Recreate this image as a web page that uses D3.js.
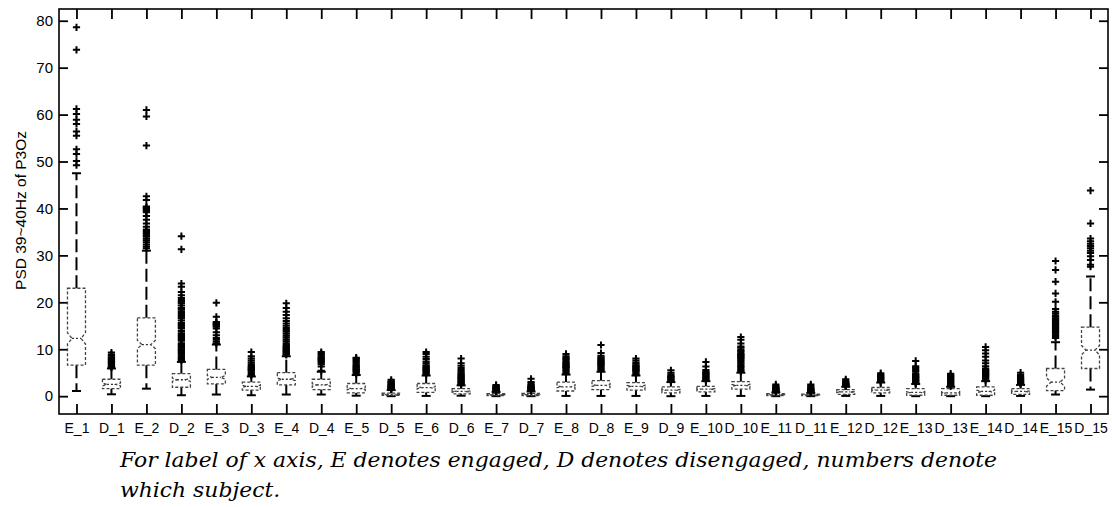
<!DOCTYPE html>
<html>
<head>
<meta charset="utf-8">
<script src="https://cdn.jsdelivr.net/npm/d3@7"></script>
<style>
  body { margin: 0; background: #fff; }
  svg { display: block; }
</style>
</head>
<body>
<svg id="chart" width="1112" height="507"></svg>
<script>
// Per-subject PSD (39~40 Hz, channel P3Oz), engaged (E) vs disengaged (D)
const categories = ["E_1","D_1","E_2","D_2","E_3","D_3","E_4","D_4","E_5","D_5",
  "E_6","D_6","E_7","D_7","E_8","D_8","E_9","D_9","E_10","D_10",
  "E_11","D_11","E_12","D_12","E_13","D_13","E_14","D_14","E_15","D_15"];

const whiskerLow  = [1.1, 0.4, 1.6, 0.2, 0.35, 0.2, 0.35, 0.35, 0.1, 0.0,
  0.05, 0.1, 0.0, 0.0, 0.05, 0.05, 0.05, 0.0, 0.05, 0.05,
  0.0, 0.0, 0.05, 0.05, 0.0, 0.0, 0.0, 0.05, 0.35, 1.4];
const q1          = [6.6, 1.6, 6.6, 1.9, 2.6, 1.3, 2.4, 1.4, 0.7, 0.15,
  0.8, 0.5, 0.1, 0.12, 1.1, 1.4, 1.3, 0.7, 0.9, 1.5,
  0.1, 0.1, 0.4, 0.7, 0.2, 0.2, 0.2, 0.4, 1.2, 5.9];
const medians     = [12.3, 2.5, 11.0, 3.5, 4.0, 2.1, 3.6, 2.4, 1.6, 0.35,
  1.8, 1.0, 0.3, 0.35, 2.0, 2.3, 2.1, 1.3, 1.5, 2.3,
  0.3, 0.25, 0.9, 1.3, 0.8, 0.7, 1.0, 1.0, 3.0, 9.8];
const q3          = [23.0, 3.6, 16.7, 4.8, 5.7, 3.0, 5.0, 3.6, 2.7, 0.65,
  2.7, 1.6, 0.55, 0.6, 3.0, 3.3, 2.9, 2.0, 2.1, 3.1,
  0.55, 0.45, 1.4, 1.85, 1.6, 1.6, 2.0, 1.6, 5.9, 14.7];
const whiskerHigh = [47.5, 5.9, 31.0, 7.3, 11.0, 4.2, 8.5, 5.2, 4.5, 1.3,
  4.4, 2.3, 0.9, 1.0, 4.6, 5.2, 4.4, 3.0, 3.2, 5.0,
  0.8, 0.7, 2.0, 2.9, 2.6, 2.0, 3.2, 2.4, 11.5, 25.5];
const notchHalf   = [1.2, 0.3, 0.9, 0.35, 0.4, 0.2, 0.3, 0.25, 0.2, 0.05,
  0.2, 0.1, 0.04, 0.05, 0.2, 0.2, 0.2, 0.12, 0.12, 0.2,
  0.04, 0.03, 0.08, 0.1, 0.1, 0.1, 0.3, 0.1, 0.9, 1.0];

const outliers = [
  [49.2, 50.1, 51.6, 52.6, 55.5, 56.4, 58.0, 58.9, 60.1, 61.2, 73.8, 78.6],
  [6.1, 6.3, 6.5, 6.7, 6.9, 7.1, 7.3, 7.5, 7.7, 7.9, 8.1, 8.3, 8.6, 8.9, 9.3],
  [31.5, 31.9, 32.3, 32.8, 33.2, 33.6, 34.0, 34.3, 34.6, 34.9, 35.2, 35.5, 36.1, 36.8, 37.6, 38.4,
   39.2, 39.5, 39.8, 40.0, 40.2, 40.4, 41.8, 42.6, 53.4, 59.6, 61.0],
  [7.6, 7.9, 8.2, 8.5, 8.8, 9.2, 9.5, 9.8, 10.0, 10.3, 10.6, 10.9, 11.3, 11.8, 12.2, 12.5, 12.8,
   13.1, 13.4, 13.9, 14.4, 14.7, 15.0, 15.3, 15.6, 16.1, 16.6, 16.9, 17.3, 17.7, 18.1, 18.5, 18.8,
   19.3, 19.8, 20.1, 20.5, 20.9, 21.5, 22.2, 23.3, 24.0, 31.3, 34.1],
  [11.2, 11.6, 12.0, 12.4, 13.0, 13.6, 14.4, 14.8, 15.0, 15.2, 15.4, 15.6, 15.8, 16.9, 19.9],
  [4.5, 4.8, 5.1, 5.4, 5.6, 5.8, 6.0, 6.2, 6.5, 6.8, 7.2, 7.6, 8.0, 8.5, 9.4],
  [8.8, 9.0, 9.2, 9.4, 9.6, 9.8, 10.0, 10.2, 10.4, 10.6, 10.9, 11.3, 11.7, 12.1, 12.5, 12.9,
   13.3, 13.7, 14.1, 14.5, 15.0, 15.5, 16.0, 16.6, 17.3, 18.0, 18.8, 19.8],
  [5.4, 6.3, 6.8, 7.1, 7.4, 7.6, 7.8, 8.0, 8.2, 8.5, 8.8, 9.1, 9.4],
  [4.8, 5.1, 5.3, 5.5, 5.7, 5.9, 6.1, 6.3, 6.5, 6.8, 7.1, 7.4, 7.7, 8.0, 8.2],
  [1.4, 1.5, 1.6, 1.7, 1.8, 1.9, 2.0, 2.1, 2.2, 2.35, 2.5, 2.65, 2.8, 3.0, 3.2, 3.5],
  [4.6, 4.9, 5.1, 5.3, 5.5, 5.7, 5.9, 6.1, 6.3, 6.6, 7.0, 7.4, 7.9, 8.4, 9.0, 9.4],
  [2.4, 2.6, 2.8, 3.0, 3.2, 3.4, 3.6, 3.8, 4.0, 4.2, 4.4, 4.6, 4.9, 5.2, 5.6, 6.0, 6.5, 7.0, 8.0],
  [1.0, 1.1, 1.2, 1.3, 1.4, 1.5, 1.6, 1.7, 1.8, 1.9, 2.0, 2.2, 2.4],
  [1.1, 1.2, 1.3, 1.4, 1.5, 1.6, 1.7, 1.8, 1.9, 2.0, 2.2, 2.4, 2.7, 3.0, 3.7],
  [4.8, 5.1, 5.4, 5.7, 6.0, 6.2, 6.4, 6.6, 6.8, 7.0, 7.3, 7.6, 7.9, 8.2, 8.5, 9.0],
  [5.5, 5.8, 6.1, 6.4, 6.6, 6.8, 7.0, 7.2, 7.4, 7.6, 7.8, 8.0, 8.3, 8.6, 9.2, 10.9],
  [4.6, 4.9, 5.2, 5.4, 5.6, 5.8, 6.0, 6.2, 6.4, 6.6, 6.9, 7.2, 7.6, 8.0],
  [3.1, 3.3, 3.5, 3.7, 3.9, 4.1, 4.3, 4.6, 5.0, 5.5],
  [3.4, 3.6, 3.8, 4.0, 4.2, 4.4, 4.6, 4.8, 5.0, 5.2, 5.6, 6.3, 7.3],
  [5.3, 5.6, 5.9, 6.2, 6.5, 6.8, 7.1, 7.4, 7.7, 8.0, 8.2, 8.4, 8.6, 8.8, 9.0, 9.3, 9.6, 9.9,
   10.3, 10.6, 11.2, 12.0, 12.6],
  [0.9, 1.0, 1.1, 1.2, 1.3, 1.4, 1.5, 1.6, 1.7, 1.8, 2.0, 2.2, 2.5],
  [0.8, 0.9, 1.0, 1.1, 1.2, 1.3, 1.4, 1.5, 1.7, 1.9, 2.2, 2.5],
  [2.1, 2.2, 2.3, 2.4, 2.5, 2.6, 2.7, 2.8, 3.0, 3.3, 3.6],
  [3.0, 3.2, 3.4, 3.6, 3.8, 4.0, 4.2, 4.4, 4.6, 4.9],
  [2.7, 2.9, 3.1, 3.3, 3.5, 3.7, 3.9, 4.1, 4.3, 4.5, 4.8, 5.2, 5.6, 6.0, 6.4, 7.5],
  [2.1, 2.3, 2.5, 2.7, 2.9, 3.1, 3.3, 3.5, 3.7, 3.9, 4.1, 4.3, 4.5, 4.8],
  [3.4, 3.7, 4.0, 4.2, 4.4, 4.6, 4.8, 5.0, 5.2, 5.4, 5.6, 5.9, 6.4, 7.0, 7.6, 8.4, 9.1, 9.8, 10.5],
  [2.6, 2.8, 3.0, 3.2, 3.4, 3.6, 3.8, 4.1, 4.5, 5.0],
  [12.4, 12.7, 13.0, 13.3, 13.6, 13.9, 14.2, 14.5, 14.8, 15.1, 15.4, 15.7, 16.0, 16.3, 16.6,
   16.9, 17.2, 17.6, 18.0, 18.6, 20.1, 21.9, 24.4, 26.9, 28.8],
  [27.6, 28.0, 29.0, 29.8, 30.5, 31.0, 31.5, 32.0, 32.5, 33.0, 33.6, 36.8, 43.8]
];

const yTicks = [0, 10, 20, 30, 40, 50, 60, 70, 80];
const yLabel = "PSD 39~40Hz of P3Oz";
const captionLines = [
  "For label of x axis, E denotes engaged, D denotes disengaged, numbers denote",
  "which subject."
];

const rows = categories.map((c, i) => ({
  cat: c, lo: whiskerLow[i], q1: q1[i], med: medians[i], q3: q3[i],
  hi: whiskerHigh[i], notch: notchHalf[i], out: outliers[i]
}));

const svg = d3.select("#chart");
svg.append("rect").attr("width", 1112).attr("height", 507).attr("fill", "#fff");

const plot = { left: 59, right: 1108, top: 9, bottom: 414 };

const x = d3.scalePoint().domain(categories).range([plot.left, plot.right]).padding(0.5);
const y = d3.scaleLinear().domain([-3.8, 82.5]).range([plot.bottom, plot.top]);

const boxHalf = 9, notchInner = 4.5, capHalf = 4.5;

// Frame
svg.append("rect")
  .attr("x", plot.left).attr("y", plot.top)
  .attr("width", plot.right - plot.left).attr("height", plot.bottom - plot.top)
  .attr("fill", "none").attr("stroke", "#000").attr("stroke-width", 1.6);

// Axes
const yAxisL = svg.append("g").attr("transform", `translate(${plot.left},0)`)
  .call(d3.axisLeft(y).tickValues(yTicks).tickSize(-9).tickPadding(6).tickFormat(d3.format("d")));
const yAxisR = svg.append("g").attr("transform", `translate(${plot.right},0)`)
  .call(d3.axisRight(y).tickValues(yTicks).tickSize(-9).tickFormat(""));
const xAxisB = svg.append("g").attr("transform", `translate(0,${plot.bottom})`)
  .call(d3.axisBottom(x).tickSize(-10).tickPadding(9));
const xAxisT = svg.append("g").attr("transform", `translate(0,${plot.top})`)
  .call(d3.axisTop(x).tickSize(-10).tickFormat(""));

[yAxisL, yAxisR, xAxisB, xAxisT].forEach(g => {
  g.select(".domain").remove();
  g.selectAll(".tick line").attr("stroke", "#000").attr("stroke-width", 1.8);
  g.selectAll("text").attr("fill", "#000")
    .attr("font-family", "'Liberation Sans', Arial, sans-serif");
});
yAxisL.selectAll("text").attr("font-size", 15);
xAxisB.selectAll("text").attr("font-size", 14);

// Y axis title
svg.append("text")
  .attr("transform", `translate(26,${(y(80) + y(0)) / 2 + 2}) rotate(-90)`)
  .attr("text-anchor", "middle")
  .attr("font-family", "'Liberation Sans', Arial, sans-serif")
  .attr("font-size", 15.5)
  .attr("fill", "#000")
  .text(yLabel);

// Boxes
const groups = svg.append("g").selectAll("g").data(rows).join("g");

// whiskers (dashed)
groups.append("line")
  .attr("x1", d => x(d.cat)).attr("x2", d => x(d.cat))
  .attr("y1", d => y(d.q3)).attr("y2", d => y(d.hi))
  .attr("stroke", "#000").attr("stroke-width", 2).attr("stroke-dasharray", "13,5");
groups.append("line")
  .attr("x1", d => x(d.cat)).attr("x2", d => x(d.cat))
  .attr("y1", d => y(d.q1)).attr("y2", d => y(d.lo))
  .attr("stroke", "#000").attr("stroke-width", 2).attr("stroke-dasharray", "13,5");

// whisker caps
groups.selectAll("line.cap").data(d => [d.lo, d.hi].map(v => ({ cat: d.cat, v })))
  .join("line").attr("class", "cap")
  .attr("x1", d => x(d.cat) - capHalf).attr("x2", d => x(d.cat) + capHalf)
  .attr("y1", d => y(d.v)).attr("y2", d => y(d.v))
  .attr("stroke", "#000").attr("stroke-width", 2);

// notched box outline
groups.append("path")
  .attr("d", d => {
    const c = x(d.cat);
    const p = d3.path();
    p.moveTo(c - boxHalf, y(d.q3));
    p.lineTo(c + boxHalf, y(d.q3));
    p.lineTo(c + boxHalf, y(d.med + d.notch));
    p.lineTo(c + notchInner, y(d.med));
    p.lineTo(c + boxHalf, y(d.med - d.notch));
    p.lineTo(c + boxHalf, y(d.q1));
    p.lineTo(c - boxHalf, y(d.q1));
    p.lineTo(c - boxHalf, y(d.med - d.notch));
    p.lineTo(c - notchInner, y(d.med));
    p.lineTo(c - boxHalf, y(d.med + d.notch));
    p.closePath();
    return p.toString();
  })
  .attr("fill", "none").attr("stroke", "#444").attr("stroke-width", 1.3)
  .attr("stroke-dasharray", "3,2");

// median
groups.append("line")
  .attr("x1", d => x(d.cat) - notchInner).attr("x2", d => x(d.cat) + notchInner)
  .attr("y1", d => y(d.med)).attr("y2", d => y(d.med))
  .attr("stroke", "#333").attr("stroke-width", 1.3).attr("stroke-dasharray", "2,2");

// outliers as '+' markers
groups.selectAll("path.out").data(d => d.out.map(v => ({ cat: d.cat, v })))
  .join("path").attr("class", "out")
  .attr("d", d => {
    const cx = x(d.cat), cy = y(d.v), s = 3.6;
    return `M${cx - s},${cy}H${cx + s}M${cx},${cy - s}V${cy + s}`;
  })
  .attr("stroke", "#000").attr("stroke-width", 2).attr("fill", "none");

// Caption
const capW = 877;
const cap = svg.append("g")
  .attr("font-family", "'DejaVu Serif', 'Liberation Serif', serif")
  .attr("font-style", "italic")
  .attr("font-size", 20)
  .attr("fill", "#000");
const l1 = cap.append("text").attr("x", 120).attr("y", 467).text(captionLines[0]);
const natural = l1.node().getComputedTextLength();
const stretch = capW / natural;
l1.attr("textLength", capW).attr("lengthAdjust", "spacingAndGlyphs");
const l2 = cap.append("text").attr("x", 120).attr("y", 497).text(captionLines[1]);
l2.attr("textLength", l2.node().getComputedTextLength() * stretch).attr("lengthAdjust", "spacingAndGlyphs");
</script>
</body>
</html>
